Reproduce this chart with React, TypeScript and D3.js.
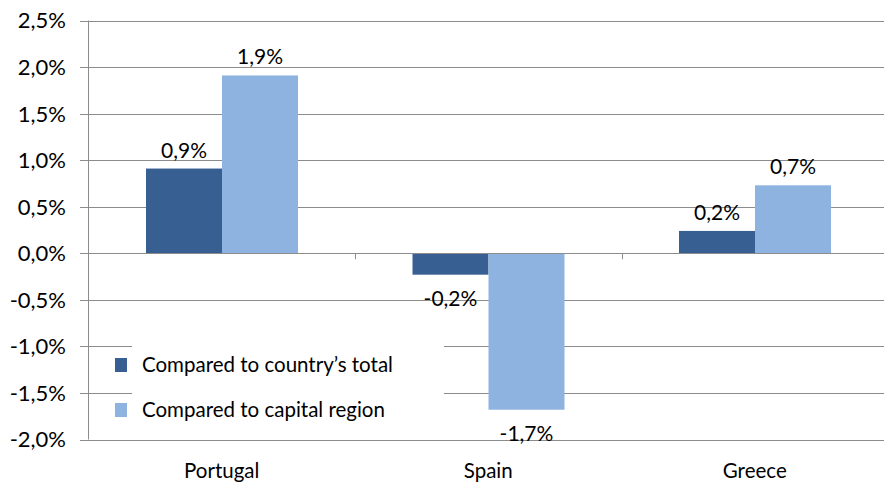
import React from 'react';
import * as d3 from 'd3';

// values (fractions)
const countries = ['Portugal', 'Spain', 'Greece'];
const seriesNames = ['Compared to country\u2019s total', 'Compared to capital region'];
const vsCountryTotal = [0.0091, -0.0023, 0.0024];
const vsCapitalRegion = [0.0191, -0.0168, 0.0073];
const yTicks = [-0.02, -0.015, -0.01, -0.005, 0, 0.005, 0.01, 0.015, 0.02, 0.025];
const colors = ['#385F91', '#8EB3E1'];

const width = 884;
const height = 484;
const font = 'Lato, "Open Sans", sans-serif';

const fmt = (v: number) => (v * 100).toFixed(1).replace('.', ',') + '%';

const App = () => {
  const y = d3.scaleLinear().domain([-0.02, 0.025]).range([439.5, 20.5]);
  const x = d3.scaleBand().domain(countries).range([88.5, 888]);
  const x1 = d3.scaleBand().domain(seriesNames).range([57.5, 209.5]);
  const allSeries = [vsCountryTotal, vsCapitalRegion];
  const y0 = y(0);

  return (
    <svg width={width} height={height} style={{ position: 'absolute', left: 0, top: 0, background: '#fff' }}>
      {/* gridlines */}
      {yTicks.map((t) => (
        <line key={t} x1={80} x2={width} y1={Math.round(y(t)) + 0.5} y2={Math.round(y(t)) + 0.5} stroke="#8c8c8c" strokeWidth={1} />
      ))}
      {/* y axis line */}
      <line x1={88.5} x2={88.5} y1={y(0.025)} y2={y(-0.02)} stroke="#8c8c8c" />
      {yTicks.map((t) => (
        <text key={'l' + t} x={66} y={y(t)} dy="0.36em" textAnchor="end" fontFamily={font} fontSize={22} fill="#000">
          {fmt(t)}
        </text>
      ))}
      {/* bars */}
      {countries.map((c, i) =>
        allSeries.map((s, j) => {
          const v = s[i];
          const bx = (x(c) as number) + (x1(seriesNames[j]) as number);
          const top = Math.min(y(v), y0);
          const h = Math.abs(y(v) - y0);
          return (
            <rect key={c + j} x={bx} y={top} width={x1.bandwidth()} height={h} fill={colors[j]} />
          );
        })
      )}
      {/* zero line with category ticks */}
      <line x1={88.5} x2={width} y1={Math.round(y0) + 0.5} y2={Math.round(y0) + 0.5} stroke="#8c8c8c" />
      {countries.slice(1).map((c) => (
        <line key={'t' + c} x1={Math.round(x(c) as number) + 0.5} x2={Math.round(x(c) as number) + 0.5} y1={y0} y2={y0 + 6} stroke="#8c8c8c" />
      ))}
      {/* data labels */}
      {countries.map((c, i) =>
        allSeries.map((s, j) => {
          const v = s[i];
          const cx = (x(c) as number) + (x1(seriesNames[j]) as number) + x1.bandwidth() / 2;
          const ly = v >= 0 ? y(v) - 11 : y(v) + 31;
          return (
            <text key={'d' + c + j} x={cx} y={ly} textAnchor="middle" fontFamily={font} fontSize={21} fill="#000">
              {fmt(Math.round(v * 1000) / 1000)}
            </text>
          );
        })
      )}
      {/* category labels */}
      {countries.map((c) => (
        <text key={'c' + c} x={(x(c) as number) + x.bandwidth() / 2} y={478} textAnchor="middle" fontFamily={font} fontSize={20.5} fill="#000">
          {c}
        </text>
      ))}
      {/* legend */}
      <g>
        <rect x={132} y={316} width={312} height={112} fill="#fff" />
        {seriesNames.map((n, j) => (
          <g key={n} transform={`translate(115, ${358 + j * 45})`}>
            <rect width={12} height={14} fill={colors[j]} />
            <text x={27} y={7} dy="0.36em" fontFamily={font} fontSize={20.5} fill="#000">
              {n}
            </text>
          </g>
        ))}
      </g>
    </svg>
  );
};

export default App;
